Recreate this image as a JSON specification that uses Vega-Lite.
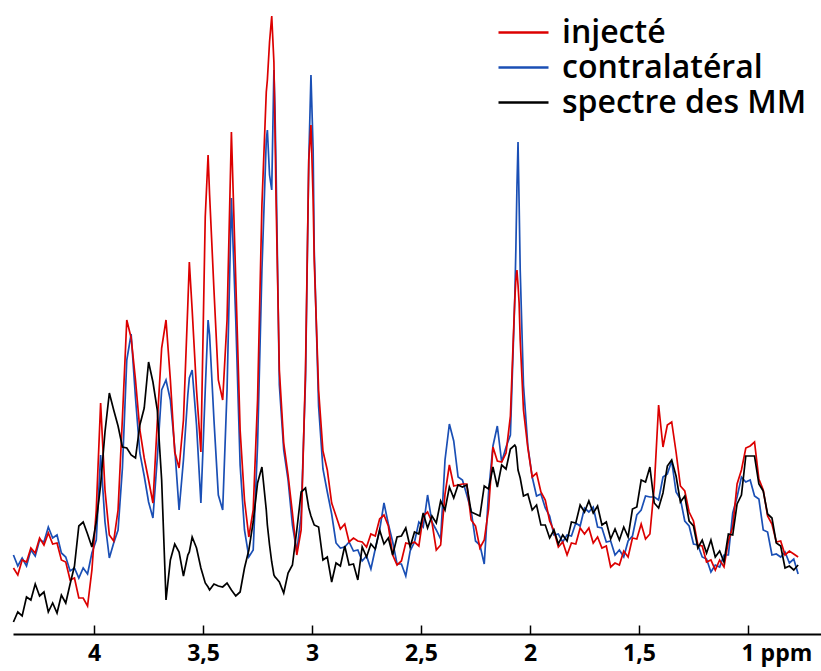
{
  "$schema": "https://vega.github.io/schema/vega-lite/v6.json",
  "width": 808,
  "height": 634,
  "autosize": {"type": "none"},
  "padding": {"left": 13, "top": 0, "right": 0, "bottom": 37},
  "background": "white",
  "config": {
    "view": {"stroke": null},
    "font": "Open Sans",
    "legend": {
      "orient": "none",
      "legendX": 484,
      "legendY": 15,
      "symbolType": "stroke",
      "symbolSize": 2500,
      "symbolStrokeWidth": 2.5,
      "labelFont": "Open Sans",
      "labelFontSize": 32,
      "labelFontWeight": 600,
      "labelColor": "#000000",
      "labelOffset": 12,
      "labelLimit": 500,
      "clipHeight": 35,
      "rowPadding": 0,
      "padding": 0
    }
  },
  "data": {
    "values": [
      {"ppm": 4.37, "r": 70, "b": 83, "k": 16},
      {"ppm": 4.35, "r": 63, "b": 72, "k": 26},
      {"ppm": 4.33, "r": 78, "b": 80, "k": 22},
      {"ppm": 4.31, "r": 76, "b": 72, "k": 41},
      {"ppm": 4.29, "r": 90, "b": 88, "k": 38},
      {"ppm": 4.27, "r": 85, "b": 82, "k": 54},
      {"ppm": 4.25, "r": 100, "b": 98, "k": 42},
      {"ppm": 4.23, "r": 93, "b": 96, "k": 46},
      {"ppm": 4.21, "r": 105, "b": 111, "k": 26},
      {"ppm": 4.19, "r": 94, "b": 100, "k": 35},
      {"ppm": 4.17, "r": 95, "b": 103, "k": 25},
      {"ppm": 4.15, "r": 78, "b": 85, "k": 43},
      {"ppm": 4.13, "r": 76, "b": 81, "k": 35},
      {"ppm": 4.11, "r": 58, "b": 67, "k": 54},
      {"ppm": 4.09, "r": 60, "b": 70, "k": 72},
      {"ppm": 4.07, "r": 40, "b": 60, "k": 112},
      {"ppm": 4.05, "r": 40, "b": 70, "k": 116},
      {"ppm": 4.03, "r": 32, "b": 64, "k": 104},
      {"ppm": 4.01, "r": 68, "b": 85, "k": 91},
      {"ppm": 3.99, "r": 128, "b": 98, "k": 116},
      {"ppm": 3.97, "r": 235, "b": 183, "k": 153},
      {"ppm": 3.95, "r": 148, "b": 116, "k": 206},
      {"ppm": 3.93, "r": 103, "b": 80, "k": 245},
      {"ppm": 3.91, "r": 97, "b": 95, "k": 228},
      {"ppm": 3.89, "r": 128, "b": 108, "k": 212},
      {"ppm": 3.87, "r": 220, "b": 170, "k": 191},
      {"ppm": 3.85, "r": 318, "b": 278, "k": 190},
      {"ppm": 3.83, "r": 300, "b": 304, "k": 183},
      {"ppm": 3.81, "r": 258, "b": 240, "k": 180},
      {"ppm": 3.79, "r": 208, "b": 185, "k": 213},
      {"ppm": 3.77, "r": 180, "b": 162, "k": 230},
      {"ppm": 3.75, "r": 158, "b": 136, "k": 276},
      {"ppm": 3.73, "r": 135, "b": 120, "k": 256},
      {"ppm": 3.71, "r": 216, "b": 180, "k": 228},
      {"ppm": 3.69, "r": 290, "b": 248, "k": 158},
      {"ppm": 3.67, "r": 318, "b": 258, "k": 38},
      {"ppm": 3.65, "r": 258, "b": 238, "k": 78},
      {"ppm": 3.63, "r": 186, "b": 190, "k": 94},
      {"ppm": 3.61, "r": 170, "b": 128, "k": 86},
      {"ppm": 3.59, "r": 218, "b": 178, "k": 62},
      {"ppm": 3.57, "r": 333, "b": 243, "k": 83},
      {"ppm": 3.563, "r": 376, "b": 260, "k": 86},
      {"ppm": 3.55, "r": 328, "b": 268, "k": 101},
      {"ppm": 3.53, "r": 248, "b": 213, "k": 90},
      {"ppm": 3.51, "r": 186, "b": 135, "k": 70},
      {"ppm": 3.49, "r": 421, "b": 248, "k": 55},
      {"ppm": 3.477, "r": 483, "b": 318, "k": 51},
      {"ppm": 3.47, "r": 443, "b": 303, "k": 48},
      {"ppm": 3.45, "r": 348, "b": 218, "k": 54},
      {"ppm": 3.43, "r": 258, "b": 143, "k": 52},
      {"ppm": 3.41, "r": 238, "b": 128, "k": 51},
      {"ppm": 3.39, "r": 318, "b": 248, "k": 55},
      {"ppm": 3.37, "r": 506, "b": 440, "k": 48},
      {"ppm": 3.35, "r": 358, "b": 318, "k": 42},
      {"ppm": 3.33, "r": 208, "b": 173, "k": 46},
      {"ppm": 3.31, "r": 138, "b": 108, "k": 70},
      {"ppm": 3.29, "r": 101, "b": 81, "k": 88},
      {"ppm": 3.27, "r": 128, "b": 88, "k": 116},
      {"ppm": 3.25, "r": 238, "b": 193, "k": 155},
      {"ppm": 3.23, "r": 433, "b": 368, "k": 171},
      {"ppm": 3.21, "r": 546, "b": 498, "k": 128},
      {"ppm": 3.205, "r": 558, "b": 508, "k": 113},
      {"ppm": 3.195, "r": 596, "b": 463, "k": 93},
      {"ppm": 3.185, "r": 622, "b": 448, "k": 76},
      {"ppm": 3.175, "r": 576, "b": 568, "k": 63},
      {"ppm": 3.17, "r": 508, "b": 528, "k": 61},
      {"ppm": 3.165, "r": 438, "b": 468, "k": 60},
      {"ppm": 3.15, "r": 268, "b": 253, "k": 56},
      {"ppm": 3.13, "r": 195, "b": 188, "k": 45},
      {"ppm": 3.11, "r": 163, "b": 158, "k": 65},
      {"ppm": 3.09, "r": 125, "b": 113, "k": 73},
      {"ppm": 3.07, "r": 83, "b": 86, "k": 108},
      {"ppm": 3.05, "r": 108, "b": 123, "k": 146},
      {"ppm": 3.03, "r": 268, "b": 258, "k": 150},
      {"ppm": 3.015, "r": 478, "b": 478, "k": 130},
      {"ppm": 3.005, "r": 513, "b": 563, "k": 122},
      {"ppm": 2.995, "r": 438, "b": 488, "k": 116},
      {"ppm": 2.99, "r": 378, "b": 388, "k": 113},
      {"ppm": 2.97, "r": 248, "b": 232, "k": 111},
      {"ppm": 2.95, "r": 187, "b": 169, "k": 78},
      {"ppm": 2.93, "r": 168, "b": 146, "k": 81},
      {"ppm": 2.91, "r": 135, "b": 124, "k": 56},
      {"ppm": 2.89, "r": 122, "b": 95, "k": 75},
      {"ppm": 2.87, "r": 109, "b": 90, "k": 72},
      {"ppm": 2.85, "r": 114, "b": 91, "k": 92},
      {"ppm": 2.83, "r": 96, "b": 96, "k": 73},
      {"ppm": 2.81, "r": 100, "b": 87, "k": 74},
      {"ppm": 2.79, "r": 97, "b": 88, "k": 58},
      {"ppm": 2.77, "r": 96, "b": 77, "k": 91},
      {"ppm": 2.75, "r": 91, "b": 82, "k": 81},
      {"ppm": 2.73, "r": 104, "b": 69, "k": 94},
      {"ppm": 2.71, "r": 102, "b": 89, "k": 89},
      {"ppm": 2.69, "r": 119, "b": 108, "k": 108},
      {"ppm": 2.67, "r": 123, "b": 135, "k": 94},
      {"ppm": 2.65, "r": 112, "b": 114, "k": 100},
      {"ppm": 2.63, "r": 83, "b": 96, "k": 83},
      {"ppm": 2.61, "r": 73, "b": 74, "k": 101},
      {"ppm": 2.59, "r": 77, "b": 74, "k": 102},
      {"ppm": 2.57, "r": 95, "b": 62, "k": 110},
      {"ppm": 2.55, "r": 94, "b": 87, "k": 91},
      {"ppm": 2.53, "r": 96, "b": 96, "k": 106},
      {"ppm": 2.51, "r": 92, "b": 116, "k": 104},
      {"ppm": 2.49, "r": 122, "b": 111, "k": 125},
      {"ppm": 2.47, "r": 126, "b": 143, "k": 110},
      {"ppm": 2.45, "r": 116, "b": 116, "k": 122},
      {"ppm": 2.43, "r": 88, "b": 108, "k": 115},
      {"ppm": 2.41, "r": 93, "b": 99, "k": 137},
      {"ppm": 2.39, "r": 144, "b": 178, "k": 128},
      {"ppm": 2.37, "r": 173, "b": 214, "k": 151},
      {"ppm": 2.35, "r": 152, "b": 197, "k": 140},
      {"ppm": 2.33, "r": 153, "b": 161, "k": 153},
      {"ppm": 2.31, "r": 154, "b": 158, "k": 151},
      {"ppm": 2.29, "r": 154, "b": 143, "k": 153},
      {"ppm": 2.27, "r": 118, "b": 127, "k": 126},
      {"ppm": 2.25, "r": 112, "b": 97, "k": 124},
      {"ppm": 2.23, "r": 90, "b": 93, "k": 122},
      {"ppm": 2.21, "r": 98, "b": 74, "k": 152},
      {"ppm": 2.19, "r": 129, "b": 146, "k": 149},
      {"ppm": 2.17, "r": 191, "b": 192, "k": 171},
      {"ppm": 2.15, "r": 177, "b": 212, "k": 151},
      {"ppm": 2.13, "r": 176, "b": 176, "k": 173},
      {"ppm": 2.11, "r": 185, "b": 191, "k": 169},
      {"ppm": 2.09, "r": 222, "b": 203, "k": 189},
      {"ppm": 2.07, "r": 338, "b": 338, "k": 193},
      {"ppm": 2.065, "r": 358, "b": 388, "k": 191},
      {"ppm": 2.06, "r": 368, "b": 451, "k": 180},
      {"ppm": 2.055, "r": 353, "b": 496, "k": 168},
      {"ppm": 2.05, "r": 335, "b": 435, "k": 164},
      {"ppm": 2.045, "r": 298, "b": 368, "k": 160},
      {"ppm": 2.03, "r": 228, "b": 253, "k": 142},
      {"ppm": 2.01, "r": 190, "b": 192, "k": 144},
      {"ppm": 1.99, "r": 161, "b": 161, "k": 128},
      {"ppm": 1.97, "r": 165, "b": 142, "k": 133},
      {"ppm": 1.95, "r": 146, "b": 144, "k": 113},
      {"ppm": 1.93, "r": 138, "b": 130, "k": 113},
      {"ppm": 1.91, "r": 117, "b": 122, "k": 100},
      {"ppm": 1.89, "r": 107, "b": 103, "k": 108},
      {"ppm": 1.87, "r": 91, "b": 104, "k": 94},
      {"ppm": 1.85, "r": 96, "b": 96, "k": 103},
      {"ppm": 1.83, "r": 83, "b": 103, "k": 97},
      {"ppm": 1.81, "r": 95, "b": 102, "k": 116},
      {"ppm": 1.79, "r": 94, "b": 115, "k": 115},
      {"ppm": 1.77, "r": 110, "b": 112, "k": 133},
      {"ppm": 1.75, "r": 104, "b": 130, "k": 126},
      {"ppm": 1.73, "r": 110, "b": 126, "k": 137},
      {"ppm": 1.71, "r": 95, "b": 131, "k": 125},
      {"ppm": 1.69, "r": 101, "b": 111, "k": 132},
      {"ppm": 1.67, "r": 90, "b": 110, "k": 113},
      {"ppm": 1.65, "r": 92, "b": 96, "k": 116},
      {"ppm": 1.63, "r": 71, "b": 97, "k": 99},
      {"ppm": 1.61, "r": 75, "b": 83, "k": 109},
      {"ppm": 1.59, "r": 73, "b": 88, "k": 98},
      {"ppm": 1.57, "r": 87, "b": 81, "k": 111},
      {"ppm": 1.55, "r": 81, "b": 97, "k": 101},
      {"ppm": 1.53, "r": 100, "b": 102, "k": 129},
      {"ppm": 1.51, "r": 99, "b": 123, "k": 131},
      {"ppm": 1.49, "r": 114, "b": 128, "k": 158},
      {"ppm": 1.47, "r": 99, "b": 142, "k": 156},
      {"ppm": 1.45, "r": 104, "b": 141, "k": 171},
      {"ppm": 1.43, "r": 151, "b": 141, "k": 135},
      {"ppm": 1.41, "r": 233, "b": 138, "k": 130},
      {"ppm": 1.39, "r": 191, "b": 161, "k": 145},
      {"ppm": 1.37, "r": 213, "b": 164, "k": 172},
      {"ppm": 1.35, "r": 216, "b": 177, "k": 178},
      {"ppm": 1.33, "r": 186, "b": 146, "k": 162},
      {"ppm": 1.31, "r": 152, "b": 139, "k": 136},
      {"ppm": 1.29, "r": 147, "b": 117, "k": 142},
      {"ppm": 1.27, "r": 126, "b": 112, "k": 117},
      {"ppm": 1.25, "r": 117, "b": 94, "k": 112},
      {"ppm": 1.23, "r": 93, "b": 93, "k": 90},
      {"ppm": 1.21, "r": 92, "b": 81, "k": 98},
      {"ppm": 1.19, "r": 76, "b": 79, "k": 85},
      {"ppm": 1.17, "r": 78, "b": 66, "k": 98},
      {"ppm": 1.15, "r": 68, "b": 73, "k": 81},
      {"ppm": 1.13, "r": 78, "b": 71, "k": 87},
      {"ppm": 1.11, "r": 71, "b": 83, "k": 76},
      {"ppm": 1.09, "r": 97, "b": 83, "k": 104},
      {"ppm": 1.07, "r": 111, "b": 125, "k": 103},
      {"ppm": 1.05, "r": 154, "b": 141, "k": 134},
      {"ppm": 1.03, "r": 168, "b": 161, "k": 143},
      {"ppm": 1.01, "r": 190, "b": 156, "k": 182},
      {"ppm": 0.99, "r": 192, "b": 158, "k": 182},
      {"ppm": 0.97, "r": 196, "b": 142, "k": 182},
      {"ppm": 0.95, "r": 159, "b": 139, "k": 154},
      {"ppm": 0.93, "r": 148, "b": 108, "k": 147},
      {"ppm": 0.91, "r": 122, "b": 106, "k": 124},
      {"ppm": 0.89, "r": 114, "b": 83, "k": 120},
      {"ppm": 0.87, "r": 96, "b": 84, "k": 95},
      {"ppm": 0.85, "r": 97, "b": 81, "k": 92},
      {"ppm": 0.83, "r": 83, "b": 86, "k": 70},
      {"ppm": 0.81, "r": 87, "b": 75, "k": 72},
      {"ppm": 0.79, "r": 84, "b": 79, "k": 68},
      {"ppm": 0.77, "r": 81, "b": 64, "k": 73}
    ]
  },
  "encoding": {
    "x": {
      "field": "ppm",
      "type": "quantitative",
      "scale": {"domain": [0.665, 4.372], "reverse": true, "nice": false, "zero": false},
      "axis": {
        "title": null,
        "values": [4, 3.5, 3, 2.5, 2, 1.5, 1],
        "labelExpr": "datum.value == 1 ? '1 ppm' : replace(toString(datum.value), '.', ',')",
        "labelFont": "Open Sans",
        "labelFontSize": 23,
        "labelFontWeight": 700,
        "labelColor": "#000000",
        "labelPadding": 17,
        "labelAlign": {"condition": {"test": "datum.value == 1", "value": "left"}, "value": "center"},
        "labelOffset": {"condition": {"test": "datum.value == 1", "value": -7}, "value": 0},
        "labelFlush": false,
        "labelOverlap": false,
        "domainColor": "#000000",
        "domainWidth": 2,
        "tickColor": "#000000",
        "tickWidth": 1.5,
        "tickSize": -9,
        "grid": false
      }
    }
  },
  "layer": [
    {
      "mark": {"type": "line", "strokeWidth": 1.7},
      "encoding": {
        "y": {"field": "b", "type": "quantitative", "scale": {"domain": [4, 638], "nice": false, "zero": false}, "axis": null},
        "color": {
          "datum": "contralatéral",
          "type": "nominal",
          "scale": {"domain": ["injecté", "contralatéral", "spectre des MM"], "range": ["#dc0000", "#1a4fb5", "#000000"]},
          "legend": {"title": null}
        }
      }
    },
    {
      "mark": {"type": "line", "strokeWidth": 1.7},
      "encoding": {
        "y": {"field": "r", "type": "quantitative", "scale": {"domain": [4, 638], "nice": false, "zero": false}, "axis": null},
        "color": {"datum": "injecté", "type": "nominal"}
      }
    },
    {
      "mark": {"type": "line", "strokeWidth": 1.7},
      "encoding": {
        "y": {"field": "k", "type": "quantitative", "scale": {"domain": [4, 638], "nice": false, "zero": false}, "axis": null},
        "color": {"datum": "spectre des MM", "type": "nominal"}
      }
    }
  ]
}
